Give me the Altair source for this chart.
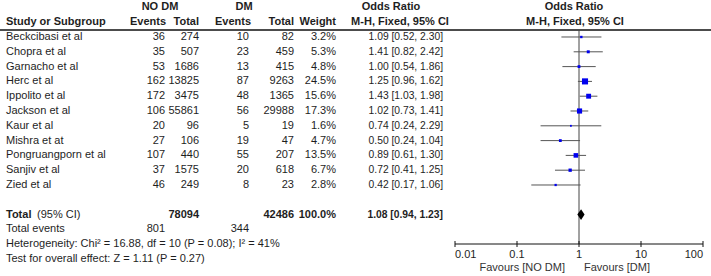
import altair as alt
import pandas as pd

# ---------------- data ----------------
studies = ["Beckcibasi et al", "Chopra et al", "Garnacho et al", "Herc et al",
           "Ippolito et al", "Jackson et al", "Kaur et al", "Mishra et at",
           "Pongruangporn et al", "Sanjiv et al", "Zied et al"]
ev_nodm = [36, 35, 53, 162, 172, 106, 20, 27, 107, 37, 46]
tot_nodm = [274, 507, 1686, 13825, 3475, 55861, 96, 106, 440, 1575, 249]
ev_dm = [10, 23, 13, 87, 48, 56, 5, 19, 55, 20, 8]
tot_dm = [82, 459, 415, 9263, 1365, 29988, 19, 47, 207, 618, 23]
weight = [3.2, 5.3, 4.8, 24.5, 15.6, 17.3, 1.6, 4.7, 13.5, 6.7, 2.8]
odds = [1.09, 1.41, 1.00, 1.25, 1.43, 1.02, 0.74, 0.50, 0.89, 0.72, 0.42]
ci_lo = [0.52, 0.82, 0.54, 0.96, 1.03, 0.73, 0.24, 0.24, 0.61, 0.41, 0.17]
ci_hi = [2.30, 2.42, 1.86, 1.62, 1.98, 1.41, 2.29, 1.04, 1.30, 1.25, 1.06]

total_n = [78094, 42486]
total_events = [801, 344]
total_or = [1.08, 0.94, 1.23]
heterogeneity = "Heterogeneity: Chi\u00b2 = 16.88, df = 10 (P = 0.08); I\u00b2 = 41%"
overall = "Test for overall effect: Z = 1.11 (P = 0.27)"
axis_ticks = [0.01, 0.1, 1, 10, 100]
axis_labels = ["0.01", "0.1", "1", "10", "100"]

# ---------------- layout ----------------
W, H = 711, 276
FONT = "Liberation Sans"
FS = 11
TXT = "#1e1e1e"
yscale = alt.Scale(domain=[-2.5, 16.149], range=[0, H])
xscale = alt.Scale(type="log", domain=[0.01, 100], range=[455, 703])
Y = lambda: alt.Y("row:Q", scale=yscale, axis=None)

n = len(studies)
df = pd.DataFrame({
    "row": list(range(n)),
    "study": studies,
    "ev1": [str(v) for v in ev_nodm],
    "tot1": [str(v) for v in tot_nodm],
    "ev2": [str(v) for v in ev_dm],
    "tot2": [str(v) for v in tot_dm],
    "w": [f"{v:.1f}%" for v in weight],
    "wv": weight,
    "or": odds,
    "lo": ci_lo,
    "hi": ci_hi,
    "ortxt": [f"{o:.2f} [{l:.2f}, {h:.2f}]" for o, l, h in zip(odds, ci_lo, ci_hi)],
})
base = alt.Chart(df)


def col(field, x, align, bold=False, data=None, fs=FS):
    c = base if data is None else alt.Chart(data)
    return c.mark_text(align=align, baseline="middle", font=FONT, fontSize=fs,
                       fontWeight="bold" if bold else "normal", color=TXT).encode(
        x=alt.value(x), y=Y(), text=f"{field}:N")


def label(text, row, x, align, bold=False, fs=FS):
    d = pd.DataFrame({"row": [row], "label": [text]})
    return col("label", x, align, bold, d, fs)


layers = []
# table columns
layers += [col("study", 6, "left"), col("ev1", 165, "right"), col("tot1", 199, "right"),
           col("ev2", 249, "right"), col("tot2", 294, "right"), col("w", 336, "right"),
           col("ortxt", 443, "right", fs=10.3)]
# headers
layers += [label("NO DM", -2, 160, "center", True), label("DM", -2, 244, "center", True),
           label("Study or Subgroup", -1, 6, "left", True),
           label("Events", -1, 166, "right", True), label("Total", -1, 199, "right", True),
           label("Events", -1, 251, "right", True), label("Total", -1, 294, "right", True),
           label("Weight", -1, 336, "right", True),
           label("Odds Ratio", -2, 391, "center", True),
           label("M-H, Fixed, 95% CI", -1, 400, "center", True),
           label("Odds Ratio", -2, 574, "center", True),
           label("M-H, Fixed, 95% CI", -1, 575, "center", True)]
# totals
layers += [label("Total", 12, 6, "left", True), label("(95% CI)", 12, 37, "left"),
           label(str(total_n[0]), 12, 199, "right", True),
           label(str(total_n[1]), 12, 294, "right", True),
           label("100.0%", 12, 336, "right", True),
           label(f"{total_or[0]:.2f} [{total_or[1]:.2f}, {total_or[2]:.2f}]", 12, 443, "right", True, 10.3),
           label("Total events", 13, 6, "left"),
           label(str(total_events[0]), 13, 165, "right"),
           label(str(total_events[1]), 13, 249, "right"),
           label(heterogeneity, 14, 6, "left"),
           label(overall, 15, 6, "left")]

# header rule
layers.append(alt.Chart(pd.DataFrame({"a": [0]})).mark_rule(color="#111", strokeWidth=1.5).encode(
    x=alt.value(0), x2=alt.value(W), y=alt.value(30)))
# vertical line at OR = 1
layers.append(alt.Chart(pd.DataFrame({"v": [1.0]})).mark_rule(color="#444", strokeWidth=1).encode(
    x=alt.X("v:Q", scale=xscale, axis=None), y=alt.value(30), y2=alt.value(244)))
# CI lines
layers.append(base.mark_rule(color="#555", strokeWidth=1).encode(
    x=alt.X("lo:Q", scale=xscale, axis=None), x2="hi:Q", y=Y()))
# squares
layers.append(base.mark_square(color="#0000ee", opacity=1, filled=True).encode(
    x=alt.X("or:Q", scale=xscale, axis=None), y=Y(),
    size=alt.Size("wv:Q", scale=alt.Scale(domain=[0, 25], range=[1, 38]), legend=None)))
# diamond
h = 0.36
dia = pd.DataFrame({"x": [total_or[1], total_or[0], total_or[2]],
                    "row": [12, 12 - h, 12], "row2": [12, 12 + h, 12]})
layers.append(alt.Chart(dia).mark_area(color="#000", opacity=1).encode(
    x=alt.X("x:Q", scale=xscale, axis=None), y=Y(), y2="row2:Q"))
# axis
ax = pd.DataFrame({"t": axis_ticks, "lab": axis_labels})
layers.append(alt.Chart(pd.DataFrame({"a": [axis_ticks[0]], "b": [axis_ticks[-1]]})).mark_rule(
    color="#111", strokeWidth=1).encode(
    x=alt.X("a:Q", scale=xscale, axis=None), x2="b:Q", y=alt.value(244)))
layers.append(alt.Chart(ax).mark_rule(color="#111", strokeWidth=1).encode(
    x=alt.X("t:Q", scale=xscale, axis=None), y=alt.value(241), y2=alt.value(247)))
for sl, al in [(slice(0, 1), "left"), (slice(1, 4), "center"), (slice(4, 5), "right")]:
    layers.append(alt.Chart(ax.iloc[sl]).mark_text(align=al, baseline="middle", font=FONT,
                                                   fontSize=FS, color=TXT).encode(
        x=alt.X("t:Q", scale=xscale, axis=None), y=alt.value(255), text="lab:N"))
layers.append(alt.Chart(pd.DataFrame({"l": ["Favours [NO DM]"]})).mark_text(
    align="right", baseline="middle", font=FONT, fontSize=FS, color="#333").encode(
    x=alt.value(565), y=alt.value(268), text="l:N"))
layers.append(alt.Chart(pd.DataFrame({"l": ["Favours [DM]"]})).mark_text(
    align="left", baseline="middle", font=FONT, fontSize=FS, color="#333").encode(
    x=alt.value(584), y=alt.value(268), text="l:N"))

chart = alt.layer(*layers).properties(
    width=W, height=H, padding=0, autosize=alt.AutoSizeParams(type="none"),
    background="white"
).configure_view(stroke=None)

chart.save("out.html", embed_options={"renderer": "svg", "actions": False})
